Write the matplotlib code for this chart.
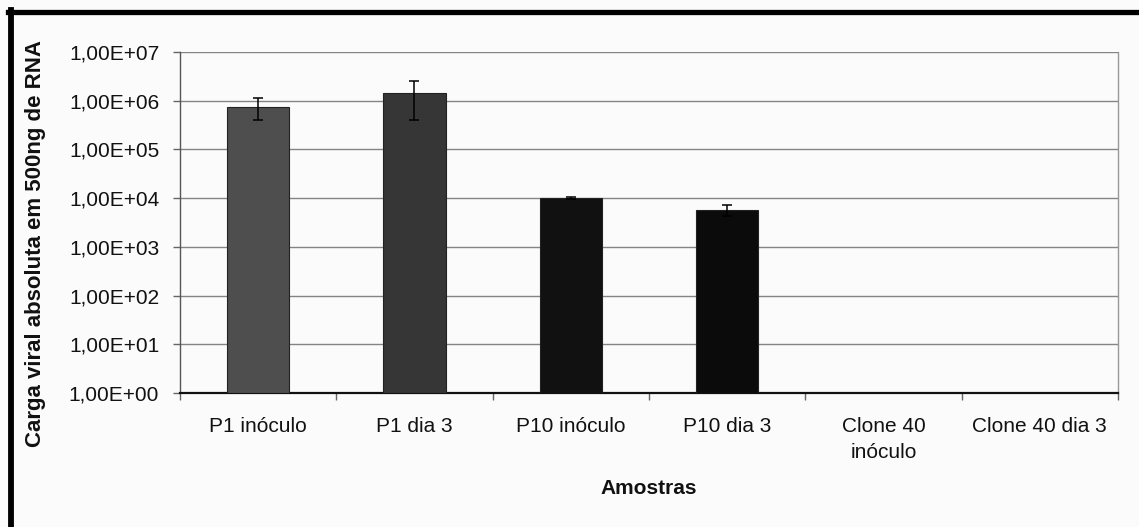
import matplotlib
matplotlib.use("Agg")
import matplotlib.pyplot as plt
from matplotlib.lines import Line2D
from matplotlib.ticker import FixedLocator, FixedFormatter, NullLocator
import numpy as np

plt.rcParams['font.family'] = ['Liberation Sans', 'DejaVu Sans']

# Viral load per sample (copies in 500 ng RNA) and standard deviation
amostras = ["P1 inóculo", "P1 dia 3", "P10 inóculo", "P10 dia 3",
            "Clone 40\ninóculo", "Clone 40 dia 3"]
carga_viral = [7.6e5, 1.45e6, 1.0e4, 5.8e3, 0.0, 0.0]
desvio = [3.6e5, 1.05e6, 4.0e2, 1.6e3, 0.0, 0.0]
cores = ["#4e4e4e", "#363636", "#111111", "#0b0b0b", "#111111", "#111111"]

expoentes = [0, 1, 2, 3, 4, 5, 6, 7]
rotulos_y = ["1,00E+00", "1,00E+01", "1,00E+02", "1,00E+03",
             "1,00E+04", "1,00E+05", "1,00E+06", "1,00E+07"]

W, H = 1139, 527
fig = plt.figure(figsize=(W / 100, H / 100), dpi=100)
fig.patch.set_facecolor("#fbfbfb")

ax = fig.add_axes([180 / W, 1 - 393 / H, (1118 - 180) / W, (393 - 52) / H])
ax.set_facecolor("#fbfbfb")
ax.set_yscale("log")
ax.set_ylim(1, 1e7)
ax.set_xlim(-0.5, len(amostras) - 0.5)

x = np.arange(len(amostras))
vals = np.array(carga_viral)
errs = np.array(desvio)
mask = vals > 0
ax.bar(x[mask], vals[mask], width=0.4, bottom=1,
       color=[c for c, m in zip(cores, mask) if m],
       edgecolor="#222222", linewidth=0.8, zorder=3)
ax.errorbar(x[mask], vals[mask], yerr=errs[mask], fmt="none",
            ecolor="black", elinewidth=1.1, capsize=3.5, capthick=1.1, zorder=4)

# y axis: decades with Excel-style labels
ax.yaxis.set_major_locator(FixedLocator([10.0 ** e for e in expoentes]))
ax.yaxis.set_major_formatter(FixedFormatter(rotulos_y))
ax.yaxis.set_minor_locator(NullLocator())
ax.grid(axis="y", which="major", color="#858585", linewidth=1.0, zorder=1)
ax.tick_params(axis="y", which="major", direction="out", length=5, width=1,
               color="#666666", labelsize=15, pad=10, labelcolor="#111111")

# x axis: labels at bar centres, tick marks at category boundaries
ax.set_xticks(x)
ax.set_xticklabels(amostras, fontsize=15, linespacing=1.5, va="top")
ax.tick_params(axis="x", which="major", length=0, pad=17, labelcolor="#111111")
ax.set_xticks(np.arange(-0.5, len(amostras), 1.0), minor=True)
ax.tick_params(axis="x", which="minor", direction="out", length=5, width=1,
               color="#666666")

ax.spines["top"].set_visible(False)
ax.spines["left"].set_color("#555555")
ax.spines["left"].set_linewidth(1.0)
ax.spines["right"].set_color("#999999")
ax.spines["right"].set_linewidth(1.0)
ax.spines["bottom"].set_color("#111111")
ax.spines["bottom"].set_linewidth(1.6)

ax.set_xlabel("Amostras", fontsize=15, fontweight="bold", labelpad=12,
              color="#111111")
fig.text(36 / W, 1 - 243 / H, "Carga viral absoluta em 500ng de RNA",
         rotation=90, ha="center", va="center", fontsize=16,
         fontweight="bold", color="#111111")

# dark frame along the top and left edges
fig.add_artist(Line2D([8 / W, 1.0], [1 - 12 / H, 1 - 12 / H],
                      transform=fig.transFigure, color="black", linewidth=3.8))
fig.add_artist(Line2D([11 / W, 11 / W], [1 - 10 / H, 0.0],
                      transform=fig.transFigure, color="black", linewidth=4.2))

fig.savefig("out.png", dpi=100, facecolor=fig.get_facecolor())
